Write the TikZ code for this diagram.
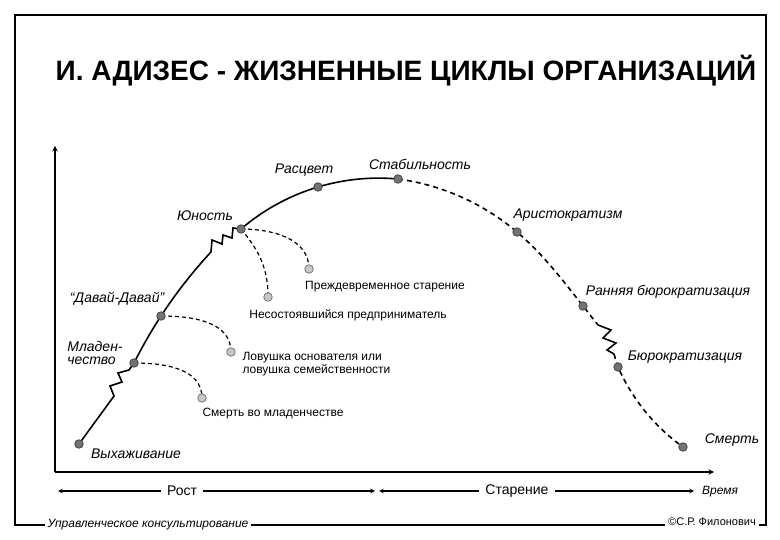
\documentclass[tikz,border=0pt]{standalone}
\usepackage{fontspec}
\setmainfont{Liberation Sans}
\usetikzlibrary{hobby}
\colorlet{stagefill}{black!55}
\colorlet{trapfill}{black!22}

\begin{document}
\begin{tikzpicture}[x=1pt, y=-1pt, use Hobby shortcut]
        \tikzset{dot/.style={
        draw=#1!60!black,
        fill=#1,
        line width=0.8pt,
        %
        circle,
        inner sep=0pt,
        minimum size=8.5pt,
    }}
        \tikzset{stage/.style={
            font=\fontsize{14}{14}\selectfont\itshape
        }}
        \tikzset{trap/.style={
            font=\fontsize{12}{11}\selectfont
        }}
        \tikzset{curve/.style={
            line width=1.6pt
        }}
        \tikzset{decline/.style={
            line width=1.6pt,
            dash pattern=on 5pt off 4pt
        }}
        \tikzset{branch/.style={
            line width=1.2pt,
            dash pattern=on 4pt off 3pt
        }}
        \useasboundingbox (0,0) rectangle (780,540);
        \draw[line width=1.6pt] (15,15) rectangle (766,525);
        \node[font=\fontsize{28}{28}\selectfont\bfseries] (title) at (406,71) {И. АДИЗЕС - ЖИЗНЕННЫЕ ЦИКЛЫ ОРГАНИЗАЦИЙ};

        % axes
        \coordinate (origin) at (55,472);
        \coordinate (ytop) at (55,146);
        \coordinate (xend) at (714,472);
        \draw[line width=1.4pt, -stealth] (origin) -- (ytop);
        \draw[line width=1.4pt, -stealth] (origin) -- (xend);

        % stages on the curve
        \coordinate (vyh) at (79,444);
        \coordinate (mlad) at (134,363);
        \coordinate (davai) at (161,316);
        \coordinate (yun) at (241,229);
        \coordinate (rasc) at (318,187);
        \coordinate (stab) at (398,179);
        \coordinate (arist) at (517,232);
        \coordinate (rann) at (583,306);
        \coordinate (bur) at (618,367);
        \coordinate (smert) at (683,447);
        \coordinate (zA) at (114,396);
        \coordinate (zB) at (211,252);
        \coordinate (zC) at (598,325);
        \coordinate (zD) at (614,354);

        \draw[curve] (vyh) -- (zA) -- (110,386) -- (122,382) -- (118,373) -- (129,370) -- (mlad);
        \draw[curve] (mlad) .. (davai) .. (zB);
        \draw[curve] (zB) -- (212,240) -- (222,244) -- (223,235) -- (232,238) -- (233,228) -- (yun);
        \draw[curve] (yun) .. (rasc) .. (stab);
        \draw[decline] (stab) .. (arist) .. (rann) .. (zC);
        \draw[curve] (zC) -- (611,330) -- (603,338) -- (616,343) -- (607,350) -- (zD);
        \draw[decline] (zD) -- (bur) .. (638,402) .. (smert);

        % traps
        \coordinate (prezh) at (309,269);
        \coordinate (neso) at (268,297);
        \coordinate (lov) at (231,352);
        \coordinate (smm) at (202,398);
        \draw[branch] (yun) to[out=0, in=90] (prezh);
        \draw[branch] (yun) to[out=-50, in=90] (neso);
        \draw[branch] (davai) to[out=0, in=90] (lov);
        \draw[branch] (mlad) to[out=0, in=90] (smm);

        \foreach \p in {vyh, mlad, davai, yun, rasc, stab, arist, rann, bur, smert}
            \node[dot=stagefill] (d\p) at (\p) {};
        \foreach \p in {prezh, neso, lov, smm}
            \node[dot=trapfill] (t\p) at (\p) {};

        \node[stage] (lVyh) at (136,454) {Выхаживание};
        \node[stage, align=left, font=\fontsize{14}{13}\selectfont\itshape] (lMlad) at (95,353) {Младен-\\чество};
        \node[stage] (lDavai) at (117,299) {“Давай-Давай”};
        \node[stage] (lYun) at (205,216) {Юность};
        \node[stage] (lRasc) at (304,170) {Расцвет};
        \node[stage] (lStab) at (420,164) {Стабильность};
        \node[stage] (lArist) at (568,215) {Аристократизм};
        \node[stage] (lRann) at (668,292) {Ранняя бюрократизация};
        \node[stage] (lBur) at (685,357) {Бюрократизация};
        \node[stage] (lSmert) at (732,440) {Смерть};

        \node[trap] (lPrezh) at (385,287) {Преждевременное старение};
        \node[trap] (lNeso) at (348,315) {Несостоявшийся предприниматель};
        \node[trap, align=left, anchor=west] (lLov) at (239,364) {Ловушка основателя или\\ловушка семейственности};
        \node[trap] (lSmm) at (273,414) {Смерть во младенчестве};

        % periods
        \node[font=\fontsize{14}{14}\selectfont, inner sep=6pt] (rost) at (182,491) {Рост};
        \node[font=\fontsize{14}{14}\selectfont, inner sep=6pt] (star) at (517,491) {Старение};
        \node[font=\fontsize{12}{12}\selectfont\itshape] (vrem) at (720,492) {Время};
        \coordinate (rostL) at (58,491);
        \coordinate (rostR) at (375,491);
        \coordinate (starL) at (379,491);
        \coordinate (starR) at (694,491);
        \draw[line width=1.1pt, -stealth] (rost) -- (rostL);
        \draw[line width=1.1pt, -stealth] (rost) -- (rostR);
        \draw[line width=1.1pt, -stealth] (star) -- (starL);
        \draw[line width=1.1pt, -stealth] (star) -- (starR);

        \node[fill=white, inner sep=3pt, font=\fontsize{12}{12}\selectfont\itshape] (consult) at (148,525) {Управленческое консультирование};
        \node[fill=white, inner sep=3pt, font=\fontsize{11}{11}\selectfont] (author) at (712,522) {©С.Р. Филонович};
    \end{tikzpicture}
\end{document}
